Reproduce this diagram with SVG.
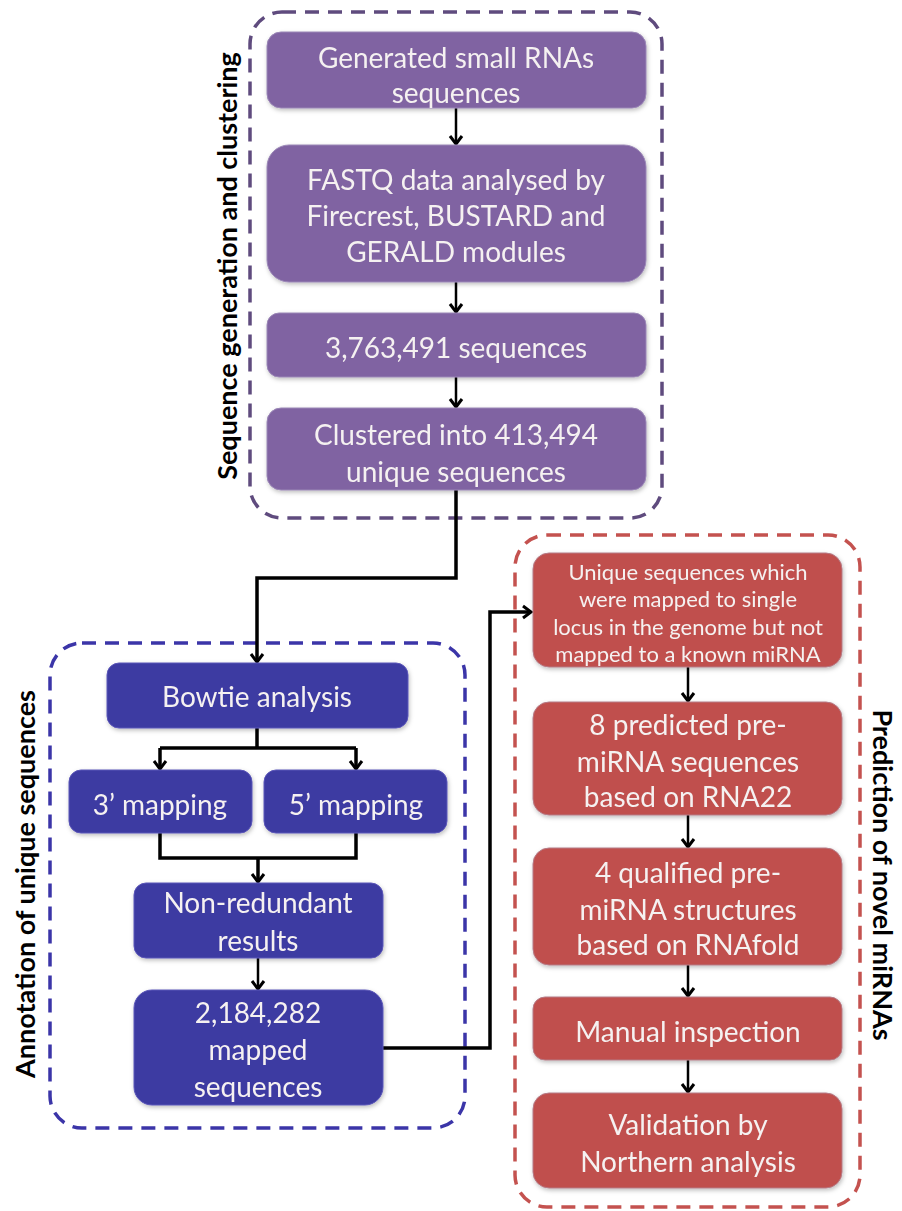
<svg xmlns="http://www.w3.org/2000/svg" width="902" height="1211" viewBox="0 0 902 1211">
<style>
.bt{font-family:Lato,"Open Sans","DejaVu Sans",sans-serif;font-size:28px;fill:#f5f1f1;text-anchor:middle}
.sm{font-size:22px}
.title{font-family:Lato,"Open Sans","DejaVu Sans",sans-serif;font-size:27px;font-weight:bold;fill:#000;text-anchor:middle}
.pbox{fill:#8064a2;stroke:#9a86b6;stroke-width:1}
.bbox{fill:#3e3aa2;stroke:#5a56b8;stroke-width:1}
.rbox{fill:#c0504d;stroke:#b57a86;stroke-width:1}
.cont{fill:none;stroke-width:3.5;stroke-dasharray:14 9}
.conn{fill:none;stroke:#000;stroke-width:3.5}
.arr{fill:none;stroke:#000;stroke-width:2.5}
</style>
<defs>
<marker id="ah" markerUnits="userSpaceOnUse" markerWidth="16" markerHeight="16" viewBox="0 0 16 16" refX="12" refY="8" orient="auto">
<path d="M4,2 L12,8 L4,14" fill="none" stroke="#000" stroke-width="3"/>
</marker>
<filter id="sh" x="-10%" y="-10%" width="120%" height="130%">
<feDropShadow dx="1" dy="2" stdDeviation="2" flood-color="#000" flood-opacity="0.25"/>
</filter>
</defs>
<rect width="902" height="1211" fill="#fff"/>

<g id="container-seq">
<rect class="cont" x="250" y="12" width="412" height="506" rx="32" stroke="#5f4b7e"/>
<text class="title" transform="translate(237,266) rotate(-90)">Sequence generation and clustering</text>
</g>
<g id="container-annot">
<rect class="cont" x="50" y="643" width="415" height="485" rx="32" stroke="#3b35a8"/>
<text class="title" transform="translate(35,884) rotate(-90)">Annotation of unique sequences</text>
</g>
<g id="container-pred">
<rect class="cont" x="515" y="535" width="345" height="672" rx="32" stroke="#c4524f"/>
<text class="title" transform="translate(873,875) rotate(90)">Prediction of novel miRNAs</text>
</g>

<g id="connectors">
<path class="arr" d="M456,108 V144" marker-end="url(#ah)"/>
<path class="arr" d="M456,282 V312" marker-end="url(#ah)"/>
<path class="arr" d="M456,377 V407" marker-end="url(#ah)"/>
<path class="conn" d="M456,490 V578 H257 V662" marker-end="url(#ah)"/>
<path class="conn" d="M257,728 V748 M160,748 H356"/>
<path class="conn" d="M160,748 V769" marker-end="url(#ah)"/>
<path class="conn" d="M356,748 V769" marker-end="url(#ah)"/>
<path class="conn" d="M160,833 V858 H356 V833"/>
<path class="conn" d="M258,858 V882" marker-end="url(#ah)"/>
<path class="arr" d="M258,958 V989" marker-end="url(#ah)"/>
<path class="conn" d="M383,1048 H490 V612 H531" marker-end="url(#ah)"/>
<path class="arr" d="M688,667 V701" marker-end="url(#ah)"/>
<path class="arr" d="M688,815 V847" marker-end="url(#ah)"/>
<path class="arr" d="M688,965 V996" marker-end="url(#ah)"/>
<path class="arr" d="M688,1060 V1092" marker-end="url(#ah)"/>
</g>

<g id="n-generated" filter="url(#sh)">
<rect class="pbox" x="267" y="32" width="379" height="76" rx="14"/>
<text class="bt" x="456" y="68">Generated small RNAs</text>
<text class="bt" x="456" y="103">sequences</text>
</g>
<g id="n-fastq" filter="url(#sh)">
<rect class="pbox" x="267" y="145" width="379" height="137" rx="22"/>
<text class="bt" x="456" y="190">FASTQ data analysed by</text>
<text class="bt" x="456" y="226">Firecrest, BUSTARD and</text>
<text class="bt" x="456" y="262">GERALD modules</text>
</g>
<g id="n-3763491" filter="url(#sh)">
<rect class="pbox" x="267" y="313" width="379" height="64" rx="12"/>
<text class="bt" x="456" y="358">3,763,491 sequences</text>
</g>
<g id="n-clustered" filter="url(#sh)">
<rect class="pbox" x="267" y="408" width="379" height="82" rx="14"/>
<text class="bt" x="456" y="445">Clustered into 413,494</text>
<text class="bt" x="456" y="482">unique sequences</text>
</g>

<g id="n-bowtie" filter="url(#sh)">
<rect class="bbox" x="107" y="663" width="301" height="65" rx="12"/>
<text class="bt" x="257" y="707">Bowtie analysis</text>
</g>
<g id="n-3map" filter="url(#sh)">
<rect class="bbox" x="69" y="770" width="183" height="63" rx="12"/>
<text class="bt" x="160" y="815">3’ mapping</text>
</g>
<g id="n-5map" filter="url(#sh)">
<rect class="bbox" x="264" y="770" width="183" height="63" rx="12"/>
<text class="bt" x="356" y="815">5’ mapping</text>
</g>
<g id="n-nonred" filter="url(#sh)">
<rect class="bbox" x="134" y="883" width="249" height="75" rx="12"/>
<text class="bt" x="258" y="913">Non-redundant</text>
<text class="bt" x="258" y="951">results</text>
</g>
<g id="n-mapped" filter="url(#sh)">
<rect class="bbox" x="134" y="990" width="249" height="115" rx="18"/>
<text class="bt" x="258" y="1023">2,184,282</text>
<text class="bt" x="258" y="1060">mapped</text>
<text class="bt" x="258" y="1097">sequences</text>
</g>

<g id="n-unique" filter="url(#sh)">
<rect class="rbox" x="533" y="553" width="309" height="114" rx="16"/>
<text class="bt sm" x="688" y="580">Unique sequences which</text>
<text class="bt sm" x="688" y="607">were mapped to single</text>
<text class="bt sm" x="688" y="635">locus in the genome but not</text>
<text class="bt sm" x="688" y="662">mapped to a known miRNA</text>
</g>
<g id="n-8pred" filter="url(#sh)">
<rect class="rbox" x="533" y="702" width="309" height="113" rx="16"/>
<text class="bt" x="688" y="735">8 predicted pre-</text>
<text class="bt" x="688" y="772">miRNA sequences</text>
<text class="bt" x="688" y="807">based on RNA22</text>
</g>
<g id="n-4qual" filter="url(#sh)">
<rect class="rbox" x="533" y="848" width="309" height="117" rx="16"/>
<text class="bt" x="688" y="883">4 qualified pre-</text>
<text class="bt" x="688" y="920">miRNA structures</text>
<text class="bt" x="688" y="955">based on RNAfold</text>
</g>
<g id="n-manual" filter="url(#sh)">
<rect class="rbox" x="533" y="997" width="309" height="63" rx="12"/>
<text class="bt" x="688" y="1042">Manual inspection</text>
</g>
<g id="n-valid" filter="url(#sh)">
<rect class="rbox" x="533" y="1093" width="309" height="95" rx="16"/>
<text class="bt" x="688" y="1135">Validation by</text>
<text class="bt" x="688" y="1172">Northern analysis</text>
</g>
</svg>
